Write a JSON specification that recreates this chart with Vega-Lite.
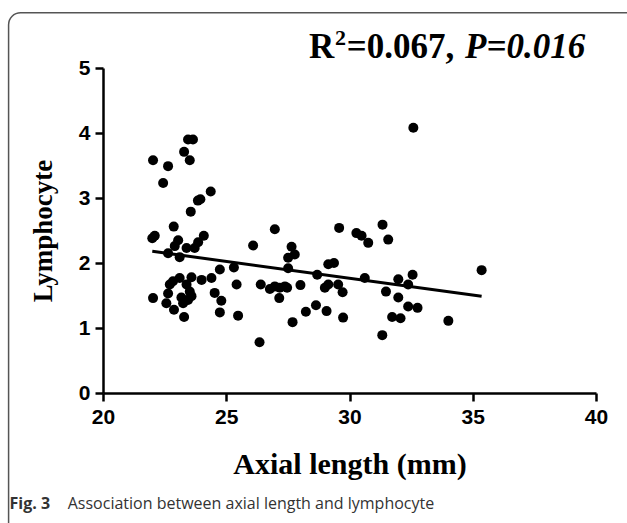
{
  "$schema": "https://vega.github.io/schema/vega-lite/v6.json",
  "width": 493,
  "height": 325,
  "autosize": {"type": "none"},
  "padding": {"left": 103, "top": 68, "right": 31, "bottom": 130},
  "background": "white",
  "config": {
    "view": {"stroke": null},
    "axis": {
      "grid": false,
      "domainColor": "black",
      "domainWidth": 2.5,
      "tickColor": "black",
      "tickWidth": 2.5,
      "tickSize": 8,
      "labelFont": "Liberation Sans",
      "labelFontWeight": "bold",
      "labelFontSize": 21,
      "labelColor": "black",
      "labelFlush": false,
      "titleFont": "Liberation Serif",
      "titleFontWeight": "bold",
      "titleColor": "black"
    }
  },
  "datasets": {
    "points": [
      {"axial": 23.45, "lymph": 3.90}, {"axial": 23.65, "lymph": 3.90}, {"axial": 23.29, "lymph": 3.71},
      {"axial": 23.52, "lymph": 3.58}, {"axial": 22.03, "lymph": 3.58}, {"axial": 22.64, "lymph": 3.49},
      {"axial": 22.44, "lymph": 3.23}, {"axial": 24.37, "lymph": 3.10}, {"axial": 23.85, "lymph": 2.96},
      {"axial": 23.95, "lymph": 2.98}, {"axial": 23.56, "lymph": 2.79}, {"axial": 22.87, "lymph": 2.56},
      {"axial": 22.10, "lymph": 2.42}, {"axial": 22.00, "lymph": 2.38}, {"axial": 24.09, "lymph": 2.42},
      {"axial": 23.05, "lymph": 2.35}, {"axial": 23.86, "lymph": 2.32}, {"axial": 22.91, "lymph": 2.26},
      {"axial": 23.39, "lymph": 2.23}, {"axial": 23.72, "lymph": 2.23}, {"axial": 22.64, "lymph": 2.15},
      {"axial": 23.11, "lymph": 2.09}, {"axial": 26.09, "lymph": 2.27}, {"axial": 25.31, "lymph": 1.93},
      {"axial": 24.74, "lymph": 1.90}, {"axial": 25.42, "lymph": 1.67}, {"axial": 24.40, "lymph": 1.77},
      {"axial": 24.00, "lymph": 1.74}, {"axial": 23.11, "lymph": 1.77}, {"axial": 22.84, "lymph": 1.72},
      {"axial": 22.71, "lymph": 1.67}, {"axial": 23.39, "lymph": 1.67}, {"axial": 23.52, "lymph": 1.56},
      {"axial": 23.59, "lymph": 1.49}, {"axial": 23.45, "lymph": 1.43}, {"axial": 23.25, "lymph": 1.38},
      {"axial": 23.18, "lymph": 1.47}, {"axial": 22.64, "lymph": 1.53}, {"axial": 22.57, "lymph": 1.38},
      {"axial": 22.88, "lymph": 1.28}, {"axial": 23.29, "lymph": 1.17}, {"axial": 22.03, "lymph": 1.46},
      {"axial": 23.59, "lymph": 1.78}, {"axial": 24.53, "lymph": 1.54}, {"axial": 24.80, "lymph": 1.42},
      {"axial": 24.74, "lymph": 1.24}, {"axial": 25.48, "lymph": 1.19}, {"axial": 26.35, "lymph": 0.78},
      {"axial": 26.40, "lymph": 1.67}, {"axial": 26.97, "lymph": 2.52}, {"axial": 27.65, "lymph": 2.25},
      {"axial": 27.78, "lymph": 2.13}, {"axial": 27.51, "lymph": 2.08}, {"axial": 27.51, "lymph": 1.92},
      {"axial": 29.58, "lymph": 2.54}, {"axial": 30.28, "lymph": 2.46}, {"axial": 30.49, "lymph": 2.42},
      {"axial": 30.76, "lymph": 2.31}, {"axial": 31.34, "lymph": 2.59}, {"axial": 31.57, "lymph": 2.36},
      {"axial": 29.14, "lymph": 1.98}, {"axial": 29.37, "lymph": 2.00}, {"axial": 28.69, "lymph": 1.82},
      {"axial": 26.77, "lymph": 1.60}, {"axial": 26.97, "lymph": 1.64}, {"axial": 27.17, "lymph": 1.62},
      {"axial": 27.38, "lymph": 1.64}, {"axial": 27.47, "lymph": 1.62}, {"axial": 27.15, "lymph": 1.46},
      {"axial": 28.01, "lymph": 1.66}, {"axial": 29.00, "lymph": 1.62}, {"axial": 29.14, "lymph": 1.67},
      {"axial": 29.54, "lymph": 1.67}, {"axial": 29.72, "lymph": 1.55}, {"axial": 28.64, "lymph": 1.35},
      {"axial": 28.23, "lymph": 1.25}, {"axial": 29.07, "lymph": 1.26}, {"axial": 29.74, "lymph": 1.16},
      {"axial": 27.69, "lymph": 1.09}, {"axial": 30.62, "lymph": 1.77}, {"axial": 35.36, "lymph": 1.89},
      {"axial": 31.98, "lymph": 1.75}, {"axial": 32.56, "lymph": 1.82}, {"axial": 32.38, "lymph": 1.67},
      {"axial": 31.48, "lymph": 1.56}, {"axial": 31.98, "lymph": 1.47}, {"axial": 32.38, "lymph": 1.33},
      {"axial": 32.76, "lymph": 1.31}, {"axial": 31.73, "lymph": 1.17}, {"axial": 32.07, "lymph": 1.15},
      {"axial": 34.01, "lymph": 1.11}, {"axial": 31.33, "lymph": 0.89}, {"axial": 32.59, "lymph": 4.08}
    ],
    "fit": [
      {"axial": 22.0, "lymph": 2.18},
      {"axial": 35.36, "lymph": 1.49}
    ],
    "one": [{"k": 1}]
  },
  "layer": [
    {
      "data": {"name": "one"},
      "mark": {"type": "rect", "fill": null, "stroke": "#555555", "strokeWidth": 1.5, "cornerRadius": 12},
      "encoding": {
        "x": {"datum": 16.17, "type": "quantitative"},
        "x2": {"datum": 41.8},
        "y": {"datum": 5.85, "type": "quantitative"},
        "y2": {"datum": -2.2}
      }
    },
    {
      "data": {"name": "points"},
      "mark": {"type": "circle", "size": 100, "color": "black", "opacity": 1},
      "encoding": {
        "x": {
          "field": "axial", "type": "quantitative",
          "scale": {"domain": [20, 40], "nice": false, "zero": false},
          "axis": {"values": [20, 25, 30, 35, 40], "format": "d", "title": "Axial length (mm)", "titleFontSize": 30, "labelFontSize": 21, "labelPadding": 5, "titlePadding": 22}
        },
        "y": {
          "field": "lymph", "type": "quantitative",
          "scale": {"domain": [0, 5], "nice": false, "zero": true},
          "axis": {"values": [0, 1, 2, 3, 4, 5], "format": "d", "title": "Lymphocyte", "titleFontSize": 27, "labelFontSize": 21, "labelPadding": 5, "titlePadding": 21}
        }
      }
    },
    {
      "data": {"name": "fit"},
      "mark": {"type": "line", "color": "black", "strokeWidth": 3},
      "encoding": {
        "x": {"field": "axial", "type": "quantitative"},
        "y": {"field": "lymph", "type": "quantitative"}
      }
    },
    {
      "data": {"name": "one"},
      "mark": {"type": "text", "text": "R", "align": "left", "baseline": "alphabetic", "font": "Liberation Serif", "fontWeight": "bold", "fontSize": 35, "color": "black"},
      "encoding": {
        "x": {"datum": 28.36, "type": "quantitative"},
        "y": {"datum": 5.158, "type": "quantitative"}
      }
    },
    {
      "data": {"name": "one"},
      "mark": {"type": "text", "text": "2", "align": "left", "baseline": "alphabetic", "font": "Liberation Serif", "fontWeight": "bold", "fontSize": 22, "color": "black"},
      "encoding": {
        "x": {"datum": 29.41, "type": "quantitative"},
        "y": {"datum": 5.358, "type": "quantitative"}
      }
    },
    {
      "data": {"name": "one"},
      "mark": {"type": "text", "text": "=0.067,", "align": "left", "baseline": "alphabetic", "font": "Liberation Serif", "fontWeight": "bold", "fontSize": 35, "color": "black"},
      "encoding": {
        "x": {"datum": 29.89, "type": "quantitative"},
        "y": {"datum": 5.158, "type": "quantitative"}
      }
    },
    {
      "data": {"name": "one"},
      "mark": {"type": "text", "text": "P=0.016", "align": "left", "baseline": "alphabetic", "font": "Liberation Serif", "fontWeight": "bold", "fontStyle": "italic", "fontSize": 35, "color": "black"},
      "encoding": {
        "x": {"datum": 34.69, "type": "quantitative"},
        "y": {"datum": 5.158, "type": "quantitative"}
      }
    },
    {
      "data": {"name": "one"},
      "mark": {"type": "text", "text": "Fig. 3", "align": "left", "baseline": "alphabetic", "font": "Open Sans", "fontWeight": "bold", "fontSize": 16, "color": "#333333"},
      "encoding": {
        "x": {"datum": 16.21, "type": "quantitative"},
        "y": {"datum": -1.78, "type": "quantitative"}
      }
    },
    {
      "data": {"name": "one"},
      "mark": {"type": "text", "text": "Association between axial length and lymphocyte", "align": "left", "baseline": "alphabetic", "font": "Open Sans", "fontSize": 16, "color": "#333333"},
      "encoding": {
        "x": {"datum": 18.57, "type": "quantitative"},
        "y": {"datum": -1.78, "type": "quantitative"}
      }
    }
  ]
}
